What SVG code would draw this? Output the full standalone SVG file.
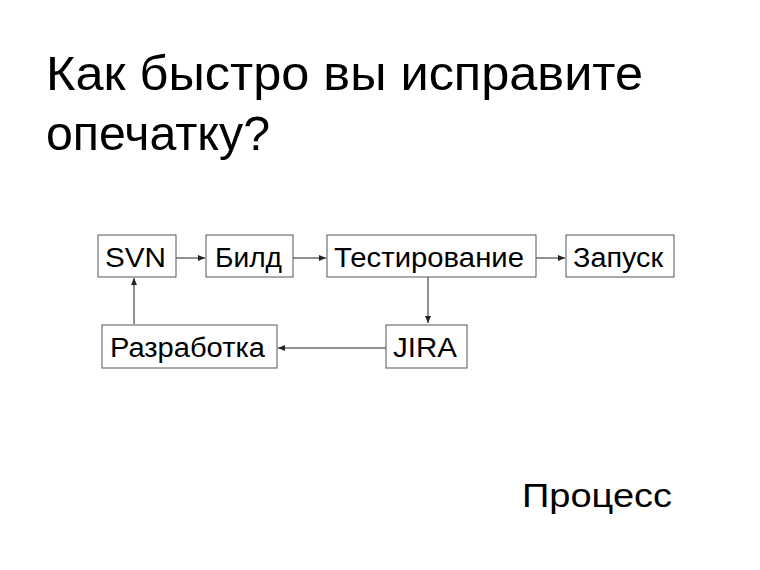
<svg xmlns="http://www.w3.org/2000/svg" width="760" height="570" viewBox="0 0 760 570">
<style>
.box{fill:#fff;stroke:#555;stroke-width:1}
.t{font-family:"Liberation Sans",Arial,sans-serif;font-size:27px;fill:#000}
.title{font-family:"Liberation Sans",Arial,sans-serif;font-size:49px;fill:#000}
.c{stroke:#222;stroke-width:1;fill:none;marker-end:url(#a)}
</style>
<defs>
<marker id="a" markerWidth="8" markerHeight="8" refX="7" refY="4" orient="auto" markerUnits="userSpaceOnUse">
<path d="M0,1 L7,4 L0,7 Z" fill="#222"/>
</marker>
</defs>
<rect width="760" height="570" fill="#fff"/>
<text class="title" x="46" y="90" textLength="597" lengthAdjust="spacingAndGlyphs">Как быстро вы исправите</text>
<text class="title" x="46" y="150" textLength="224" lengthAdjust="spacingAndGlyphs">опечатку?</text>
<g id="connectors">
<line class="c" x1="176" y1="258" x2="205" y2="258"/>
<line class="c" x1="293" y1="258" x2="326" y2="258"/>
<line class="c" x1="536" y1="258" x2="565" y2="258"/>
<line class="c" x1="428" y1="277" x2="428" y2="323"/>
<line class="c" x1="386" y1="348" x2="278" y2="348"/>
<line class="c" x1="134" y1="324" x2="134" y2="278"/>
</g>
<g id="svn"><rect class="box" x="98" y="235" width="78" height="42"/><text class="t" x="105" y="267" textLength="61" lengthAdjust="spacingAndGlyphs">SVN</text></g>
<g id="build"><rect class="box" x="206" y="235" width="87" height="42"/><text class="t" x="215" y="267" textLength="67" lengthAdjust="spacingAndGlyphs">Билд</text></g>
<g id="test"><rect class="box" x="327" y="235" width="209" height="42"/><text class="t" x="334" y="267" textLength="190" lengthAdjust="spacingAndGlyphs">Тестирование</text></g>
<g id="launch"><rect class="box" x="566" y="235" width="108" height="42"/><text class="t" x="573" y="267" textLength="90" lengthAdjust="spacingAndGlyphs">Запуск</text></g>
<g id="dev"><rect class="box" x="102" y="325" width="175" height="43"/><text class="t" x="110" y="357" textLength="155" lengthAdjust="spacingAndGlyphs">Разработка</text></g>
<g id="jira"><rect class="box" x="386" y="325" width="81" height="43"/><text class="t" x="393" y="357" textLength="64" lengthAdjust="spacingAndGlyphs">JIRA</text></g>
<text x="522" y="507" textLength="150" lengthAdjust="spacingAndGlyphs" style="font-family:'Liberation Sans',Arial,sans-serif;font-size:33px;fill:#000">Процесс</text>
</svg>
